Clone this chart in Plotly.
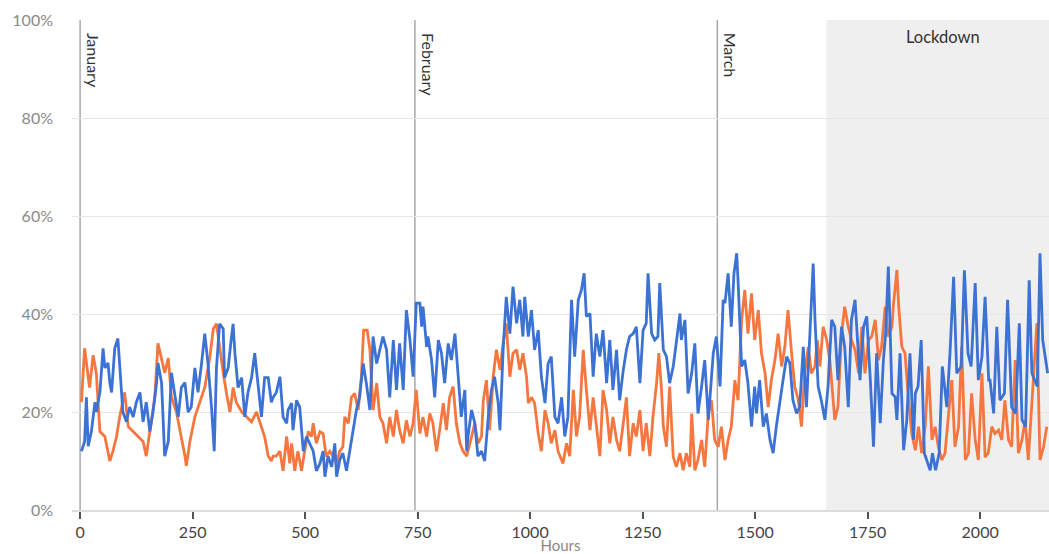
import plotly.graph_objects as go

# hourly share readings, two series
orange_hours = [
    3, 10, 21, 29, 36, 44, 55, 66, 73, 81, 88, 99, 107, 118, 129, 140, 147, 155, 166, 173,
    181, 188, 196, 203, 214, 225, 233, 236, 244, 255, 266, 277, 288, 296, 303, 310, 318, 325,
    333, 340, 347, 359, 370, 381, 392, 403, 410, 418, 425,
    429, 436, 444, 451, 459, 466, 470, 477, 484, 492, 499, 507, 514, 518, 525, 533, 540, 547,
    555, 562, 570, 577, 584, 588, 596, 603, 610, 618, 625, 630, 638, 644, 651, 659, 666, 673,
    681, 688, 696, 703, 710, 718, 725, 733, 740, 747, 755, 762, 770, 777, 784, 792, 799, 807,
    814, 821, 829, 836, 844, 851, 859,
    862, 870, 877, 884, 892, 896, 903, 910, 918, 925, 933, 940, 947, 955, 962, 970, 977, 984,
    992, 996, 1003, 1010, 1018, 1025, 1033, 1040, 1047, 1055, 1062, 1073, 1081, 1088, 1096,
    1103, 1110, 1118, 1125, 1133, 1140, 1147, 1155, 1162, 1170, 1177, 1184, 1192, 1199, 1207,
    1214, 1221, 1229, 1236, 1244, 1251, 1258, 1266, 1273, 1281, 1286, 1292,
    1296, 1303, 1310, 1318, 1325, 1333, 1340, 1347, 1355, 1359, 1366, 1373, 1381, 1388, 1396,
    1403, 1410, 1418, 1425, 1433, 1440, 1447, 1455, 1462, 1470, 1477, 1484, 1492, 1499, 1507,
    1514, 1522, 1529, 1536, 1544, 1551, 1559, 1566, 1573, 1581, 1588, 1596, 1603, 1610, 1618,
    1625, 1633, 1638, 1644, 1651, 1659, 1666, 1673, 1677, 1684, 1692, 1699, 1707, 1714,
    1722, 1730, 1737, 1744, 1752, 1759, 1767, 1774, 1781, 1789, 1796, 1804, 1807, 1815, 1819,
    1826, 1833, 1841, 1848, 1856, 1863, 1870, 1878, 1885, 1893, 1900, 1907, 1915, 1922, 1930,
    1937, 1944, 1952, 1959, 1967, 1974, 1981, 1989, 1996, 2004, 2011, 2018, 2026, 2033, 2041,
    2048, 2055, 2063, 2070, 2078, 2085, 2093, 2100, 2107, 2115, 2126, 2133, 2141, 2148,
]
orange_values = [
    22, 33, 25, 31.6, 28, 16, 15, 10, 12, 15, 19, 24, 17, 16, 15, 14, 11, 16, 23, 34,
    31, 28, 31, 23, 20, 15, 11, 9, 14, 19, 22, 25, 31, 37, 38, 33, 28, 24,
    20, 25, 22, 20, 19, 18, 20, 17, 15, 11, 10,
    11, 11, 12, 8, 15, 9.5, 13.6, 8, 12, 8, 12, 16, 15, 17.7, 13.6, 16, 15.6, 10.9,
    12, 11, 9.5, 12, 12.9, 19, 17.7, 23, 23.8, 20.4, 27.2, 36.7, 36.7, 32.7, 20.4, 25.9, 19, 17.7,
    13.6, 19, 15, 20.4, 16.3, 13.6, 18.3, 15, 17.7, 24.5, 15.6, 19, 15, 19.7, 17.7, 12, 16.3, 21.8,
    16.3, 23, 25.2, 17.7, 13.6, 12, 11,
    12, 15, 17.7, 13.6, 15, 22.4, 26.5, 16.3, 27.2, 32.7, 28.6, 34, 38.1, 27.2, 32, 32.7, 28.6, 32,
    27.2, 21.8, 23, 21.8, 15.6, 12, 20.4, 17.7, 13.6, 16.3, 12, 9.5, 13.6, 11, 24.5,
    15, 19, 32.7, 24.5, 16.3, 23, 17.7, 11, 24.5, 20.4, 13.6, 19, 14.3, 12, 17.7,
    23, 11, 17.7, 15, 20.4, 12, 17.7, 11, 19, 25.9, 32, 24.5,
    17, 12.9, 25.2, 10.8, 8.8, 11.6, 8.1, 11.6, 8.8, 19.7, 8.1, 10.2, 14.3, 8.8, 19.7,
    22.4, 14.3, 12.9, 17, 10.2, 14.3, 17, 26.5, 22.4, 38.8, 44.9, 36, 44.2, 34.7, 40.8,
    32, 27.9, 21, 26.5, 30.6, 36, 29.3, 33.3, 40.8, 32, 25.2, 22.4, 17, 27.9, 33.3,
    27.9, 29.3, 34.7, 29.3, 37.4, 34.7, 30.6, 22.4, 18.4, 21, 36, 41.5, 37.4, 34.7,
    32.7, 27.9, 37.4, 27.9, 34.7, 35.4, 38.8, 30.6, 33.3, 41.5, 35.4, 37.4, 41.5, 49, 41.5,
    33.3, 32, 22.4, 15.6, 12.2, 17, 11.6, 17, 29.3, 14.3, 17, 12.9, 10.2, 11.6, 19.7,
    26.5, 12.9, 17, 33.3, 10.2, 11.6, 23.8, 14.3, 10.2, 27.9, 10.8, 11.6, 17, 15.6, 16.3,
    14.3, 22.4, 14.3, 12.9, 30.6, 11.6, 14.3, 18.4, 10.2, 22.4, 38.1, 10.2, 12.9, 17,
]

blue_hours = [
    3, 10, 14, 18, 25, 33, 36, 44, 51, 55, 62, 66, 70, 77, 84, 88, 95, 103, 110, 118,
    125, 133, 140, 147, 155, 162, 170, 173, 181, 188, 196, 203, 210, 218, 225, 233, 240, 247,
    255, 262, 270, 277, 284, 292, 298, 303, 310, 318, 321, 329, 336, 340, 344, 351, 359, 366,
    373, 381, 388, 396, 403, 410, 418, 425,
    429, 436, 444, 451, 459, 462, 470, 473, 481, 488, 496, 503, 510, 518, 525, 533, 540, 544,
    551, 559, 566, 570, 577, 584, 592, 599, 607, 614, 621, 629, 636, 644, 651, 659, 666, 673,
    681, 688, 696, 703, 710, 718, 725, 733, 740, 747, 755, 759, 762, 770, 773, 781, 788, 796,
    803, 810, 818, 825, 833, 840, 847, 855, 859,
    862, 870, 877, 884, 892, 899, 907, 914, 921, 929, 933, 940, 947, 955, 962, 970, 977, 984,
    988, 996, 1003, 1010, 1018, 1025, 1033, 1040, 1047, 1055, 1062, 1070, 1077, 1084, 1092,
    1099, 1107, 1114, 1120, 1125, 1133, 1140, 1147, 1155, 1162, 1170, 1177, 1184, 1192, 1199,
    1207, 1214, 1221, 1229, 1236, 1244, 1251, 1258, 1262, 1270, 1277, 1284, 1288, 1296,
    1303, 1310, 1318, 1325, 1333, 1336, 1344, 1351, 1359, 1366, 1373, 1381, 1388, 1396,
    1403, 1407, 1414, 1422, 1429, 1433, 1440, 1447, 1453, 1459, 1462, 1470, 1477, 1484, 1492,
    1499, 1503, 1510, 1518, 1525, 1533, 1540, 1547, 1555, 1562, 1570, 1577, 1584, 1592, 1599,
    1607, 1614, 1622, 1629, 1633, 1640, 1647, 1655, 1662, 1670, 1677, 1684, 1692, 1699, 1707,
    1714,
    1722, 1726, 1733, 1741, 1748, 1756, 1763, 1770, 1778, 1785, 1790, 1796, 1804, 1811, 1815,
    1822, 1830, 1837, 1844, 1852, 1856, 1862, 1869, 1876, 1881, 1889, 1894, 1901, 1909, 1916,
    1926, 1933, 1941, 1948, 1958, 1965, 1973, 1980, 1989, 1996, 2004, 2011, 2019, 2022, 2030,
    2037, 2044, 2054, 2061, 2070, 2079, 2087, 2093, 2101, 2109, 2115, 2127, 2133, 2139, 2146,
    2150,
]
blue_values = [
    12, 14, 23, 13, 16, 22, 20, 24, 33, 29, 30, 26, 24, 33, 35, 30, 20, 18, 21, 19,
    22, 24, 18, 22, 16, 20, 26, 30, 26, 11, 14, 28, 24, 19, 25, 26, 20, 21,
    29, 24, 30, 36, 30, 21, 12, 29, 38, 37, 27, 29, 35, 38, 32, 25, 27, 19,
    24, 27, 32, 25, 19, 27, 27, 22,
    23, 24, 27.2, 19, 17.7, 20.4, 21.8, 16.3, 22.4, 21, 12, 15, 13.6, 12, 8, 9.5, 12, 6.8,
    11, 8.8, 13.6, 6.8, 10.2, 11.6, 8, 12, 16.3, 20.4, 23, 29.9, 25.9, 20.4, 35.4, 29.9, 32.7, 35.4,
    32.7, 23, 34.7, 24.5, 34, 24.5, 40.8, 34.7, 27.2, 42.2, 42.2, 37.4, 41.5, 33.3, 35.4, 30.6, 23, 34.7,
    32, 25.9, 34, 30.6, 36, 27.2, 19, 24.5, 12,
    15, 20.4, 17.7, 11, 12, 10, 19, 24.5, 27.2, 21.8, 16.3, 32.7, 43.5, 36, 45.6, 38.1, 42.9, 35.4,
    43.5, 35.4, 40.8, 32.7, 36.7, 27.2, 21.8, 29.9, 31.3, 19, 17.7, 23, 15, 19, 42.9,
    31.3, 42.9, 44.9, 48.3, 39.5, 40.1, 27.2, 36, 31.3, 36.7, 25.9, 34.7, 24.5, 32.7, 22.4,
    28.6, 32.7, 35.4, 36, 37.4, 25.9, 36.7, 38.1, 48.3, 36, 34.7, 35.4, 46.3, 32.7,
    31.3, 25.9, 29.3, 34.7, 40.1, 34.7, 38.8, 23.8, 27.9, 34, 19.7, 25.2, 30.6, 18.4, 26.5,
    32, 35.4, 25.2, 42.9, 42.2, 48.3, 37.4, 48.3, 52.4, 46.9, 29.3, 30.6, 25.9, 17, 25.2,
    19.7, 26.5, 17, 19.7, 14.3, 11.6, 17, 22.4, 26.5, 31.3, 30, 22.4, 19.7, 21, 33.3,
    21, 36, 50.3, 38.8, 25.2, 22.4, 18.4, 25.2, 38.8, 37.4, 26.5, 37.4, 33.3, 21, 38.8,
    42.9,
    36, 26.5, 37.4, 39.5, 26.5, 12.9, 32, 17.7, 30.6, 36, 49.7, 23.8, 23.1, 18.4, 32,
    12.2, 18.4, 32, 14.3, 23.8, 25.2, 34.7, 11.6, 10.2, 8.1, 11.6, 8.1, 11.6, 29.3, 21,
    32, 47.6, 27.9, 29.3, 48.9, 32, 29.3, 46.3, 26.5, 31.3, 43.5, 26.5, 26.5, 19.7, 37.4,
    22.4, 23.8, 42.9, 21, 19.7, 38.1, 18.4, 17, 46.9, 27.9, 25.2, 52.4, 34.7, 30.6, 27.9,
    36.7,
]

x_ticks = [0, 250, 500, 750, 1000, 1250, 1500, 1750, 2000]
y_ticks = [0, 20, 40, 60, 80, 100]
y_tick_labels = ["0%", "20%", "40%", "60%", "80%", "100%"]

month_names = ["January", "February", "March"]
month_start_hours = [0, 744, 1416]
lockdown_start = 1658
lockdown_end = 2200

FONT = "Lato, Open Sans, sans-serif"

fig = go.Figure()

fig.add_vrect(x0=lockdown_start, x1=lockdown_end, fillcolor="#efefef",
              line_width=0, layer="below")
fig.add_annotation(x=1918, y=1, xref="x", yref="paper", yshift=-5,
                   text="Lockdown", showarrow=False, yanchor="top",
                   font=dict(size=16.5, color="#333333", family=FONT))

for name, h in zip(month_names, month_start_hours):
    fig.add_shape(type="line", x0=h, x1=h, y0=0, y1=1, xref="x", yref="paper",
                  line=dict(color="#a8a8a8", width=1.5), layer="below")
    fig.add_annotation(x=h, y=1, xref="x", yref="paper", text=name,
                       textangle=90, showarrow=False, xanchor="left",
                       yanchor="top", xshift=2, yshift=-11,
                       font=dict(size=16, color="#333333", family=FONT))

fig.add_trace(go.Scatter(x=orange_hours, y=orange_values, mode="lines",
                         line=dict(color="#F5773F", width=2.8),
                         showlegend=False))
fig.add_trace(go.Scatter(x=blue_hours, y=blue_values, mode="lines",
                         line=dict(color="#3B72D4", width=2.8),
                         showlegend=False))

fig.update_layout(
    width=1049, height=554,
    margin=dict(l=72, r=0, t=20, b=44),
    plot_bgcolor="white", paper_bgcolor="white",
    font=dict(family=FONT),
)
fig.update_xaxes(
    range=[-18, 2153], showgrid=False, zeroline=False, automargin=False,
    showline=True, linecolor="#dcdcdc", linewidth=1.5,
    ticks="outside", ticklen=7, tickwidth=1.5, tickcolor="#555555",
    tickvals=x_ticks,
    tickfont=dict(size=16, color="#444444"),
    title=dict(text="Hours", font=dict(size=15, color="#888888"), standoff=9),
)
fig.update_yaxes(
    range=[0, 100], tickmode="array", tickvals=y_ticks, ticktext=y_tick_labels,
    showgrid=True, gridcolor="#e6e6e6", gridwidth=1, zeroline=False,
    showline=False, ticks="", ticklabelstandoff=18, automargin=False,
    tickfont=dict(size=16, color="#8a8a8a"),
)

fig.write_html(
    "out.html",
    config={"displayModeBar": False},
    post_script="document.body.style.margin='0';document.body.style.overflow='hidden';",
)
